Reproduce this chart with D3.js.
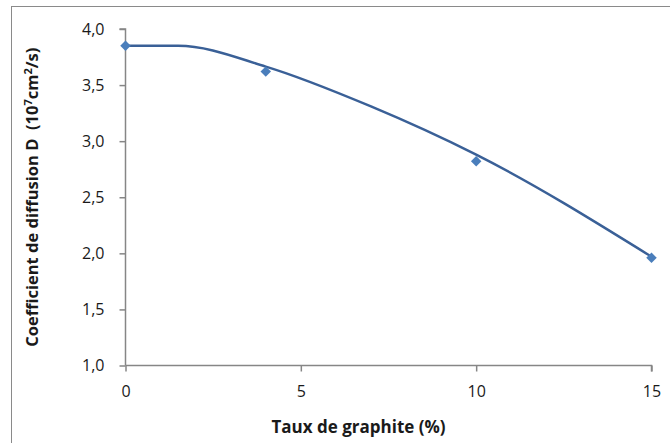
<!DOCTYPE html>
<html><head><meta charset="utf-8">
<script src="https://cdn.jsdelivr.net/npm/d3@7"></script>
<style>body{margin:0;background:#fff}svg{display:block}text{font-family:"Open Sans",Lato,sans-serif}</style>
</head><body>
<svg id="c" width="670" height="443"></svg>
<script>
// data
const tauxGraphite = [0, 4, 10, 15];
const coefDiffusion = [3.85, 3.62, 2.82, 1.96];
// smoothed curve drawn in the original
const curveX = [0, 1.5, 4, 7, 10, 15];
const curveY = [3.85, 3.85, 3.665, 3.31, 2.88, 1.97];
const xTicks = [0, 5, 10, 15];
const yTicks = [1.0, 1.5, 2.0, 2.5, 3.0, 3.5, 4.0];

const svg = d3.select("#c");
svg.append("rect").attr("x", 11.5).attr("y", 6.5).attr("width", 700).attr("height", 500)
  .attr("fill", "#fff").attr("stroke", "#8a8a8a").attr("stroke-width", 1);

const x = d3.scaleLinear().domain([0, 15]).range([125.5, 651.5]);
const y = d3.scaleLinear().domain([1, 4]).range([365.5, 29]);
const fmt = d => d3.format(".1f")(d).replace(".", ",");
const axisColor = "#868686";

const gy = svg.append("g").attr("transform", `translate(${x(0)},0)`)
  .call(d3.axisLeft(y).tickValues(yTicks).tickFormat(fmt).tickSize(6).tickPadding(15));
const gx = svg.append("g").attr("transform", `translate(0,${y(1)})`)
  .call(d3.axisBottom(x).tickValues(xTicks).tickFormat(d3.format("d")).tickSize(6).tickPadding(14));
[gx, gy].forEach(g => {
  g.select(".domain").attr("stroke", axisColor).attr("stroke-width", 1.5);
  g.selectAll(".tick line").attr("stroke", axisColor).attr("stroke-width", 1.5);
  g.selectAll(".tick text").attr("fill", "#1a1a1a").attr("font-size", 16);
});
gy.select(".domain").attr("d", `M-6,${y(4)}H0V${y(1)}`);
gx.select(".domain").attr("d", `M0,0H${x(15) - x(0)}V6`).attr("transform", `translate(${x(0)},0)`);

// smoothed line
const line = d3.line().x((d, i) => x(curveX[i])).y(d => y(d)).curve(d3.curveMonotoneX);
svg.append("path").datum(curveY).attr("d", line).attr("fill", "none")
  .attr("stroke", "#3A6097").attr("stroke-width", 2.5);

// markers
svg.selectAll(".m").data(coefDiffusion).enter().append("path")
  .attr("d", d3.symbol().type(d3.symbolDiamond2).size(70)())
  .attr("transform", (d, i) => `translate(${x(tauxGraphite[i])},${y(d)})`)
  .attr("fill", "#4A7EBB");

// axis titles
svg.append("text").attr("x", (x(0) + x(15)) / 2 - 30).attr("y", 433)
  .attr("text-anchor", "middle").attr("font-size", 17).attr("font-weight", "bold").attr("fill", "#1a1a1a")
  .text("Taux de graphite (%)");
const yt = svg.append("text").attr("transform", `translate(38,${(y(1) + y(4)) / 2}) rotate(-90)`)
  .attr("text-anchor", "middle").attr("font-size", 16.5).attr("font-weight", "bold").attr("fill", "#1a1a1a")
  .attr("xml:space", "preserve");
yt.append("tspan").text("Coefficient de diffusion D\u00a0\u00a0(10");
yt.append("tspan").attr("font-size", 11).attr("dy", -6).text("7");
yt.append("tspan").attr("dy", 6).text("cm");
yt.append("tspan").attr("font-size", 11).attr("dy", -6).text("2");
yt.append("tspan").attr("dy", 6).text("/s)");
</script>
</body></html>
